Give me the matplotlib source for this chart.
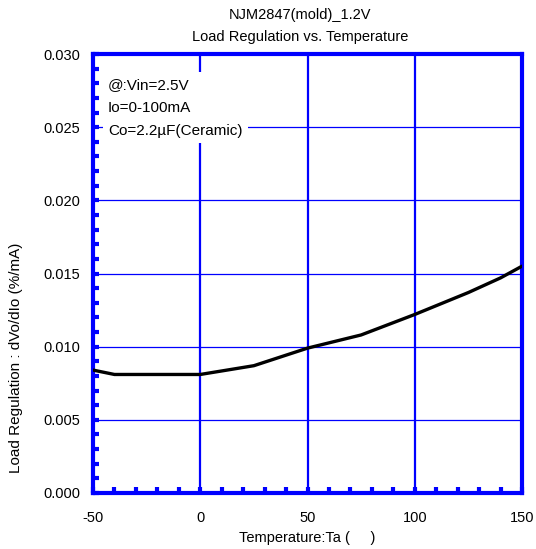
import matplotlib
matplotlib.use('Agg')
import matplotlib.pyplot as plt
from matplotlib.ticker import MultipleLocator

plt.rcParams['font.family'] = ['Liberation Sans', 'DejaVu Sans']
plt.rcParams['axes.unicode_minus'] = False

# data
temp = [-50, -40, 0, 25, 50, 75, 100, 125, 140, 150]
load_reg = [0.0084, 0.0081, 0.0081, 0.0087, 0.0099, 0.0108, 0.0122, 0.0137, 0.0147, 0.0155]

x_ticks = [-50, 0, 50, 100, 150]
y_ticks = [0.000, 0.005, 0.010, 0.015, 0.020, 0.025, 0.030]

blue = '#0000FF'
fs = 10.5

fig = plt.figure(figsize=(5.36, 5.49), dpi=100)
ax = fig.add_axes([93/536, 1 - 493/549, 429/536, 439/549])

ax.set_xlim(-50, 150)
ax.set_ylim(0, 0.030)
ax.set_xticks(x_ticks)
ax.set_yticks(y_ticks)
ax.set_yticklabels([f'{v:.3f}' for v in y_ticks])
ax.xaxis.set_minor_locator(MultipleLocator(10))
ax.yaxis.set_minor_locator(MultipleLocator(0.001))

# grid: vertical lines heavier than horizontal
for xv in x_ticks[1:-1]:
    ax.axvline(xv, color=blue, lw=1.6, zorder=1)
for yv in y_ticks[1:-1]:
    ax.axhline(yv, color=blue, lw=0.9, zorder=1)

for spine in ax.spines.values():
    spine.set_color(blue)
    spine.set_linewidth(3)

ax.tick_params(which='both', direction='in', color=blue, width=3, length=4.5,
               top=False, right=False, labelsize=fs)
ax.tick_params(axis='x', which='major', pad=13)
ax.tick_params(axis='y', which='major', pad=9)

ax.plot(temp, load_reg, color='black', lw=2.4, zorder=3, solid_capstyle='round')

ax.text(-43, 0.02836, '@:Vin=2.5V\nIo=0-100mA\nCo=2.2\u00b5F(Ceramic)', fontsize=11,
        va='top', ha='left', linespacing=1.8, zorder=2,
        bbox=dict(facecolor='white', edgecolor='none', pad=4))

fig.text(300/536, 1 - 15/549, 'NJM2847(mold)_1.2V', ha='center', va='center', fontsize=fs)
fig.text(300/536, 1 - 37/549, 'Load Regulation vs. Temperature', ha='center', va='center', fontsize=fs)

ax.set_xlabel('Temperature:Ta (     )', fontsize=fs, labelpad=4)
fig.text(16/536, 1 - 358/549, 'Load Regulation : dVo/dIo (%/mA)', rotation=90,
         ha='center', va='center', fontsize=11)

fig.savefig('out.png', dpi=100)
